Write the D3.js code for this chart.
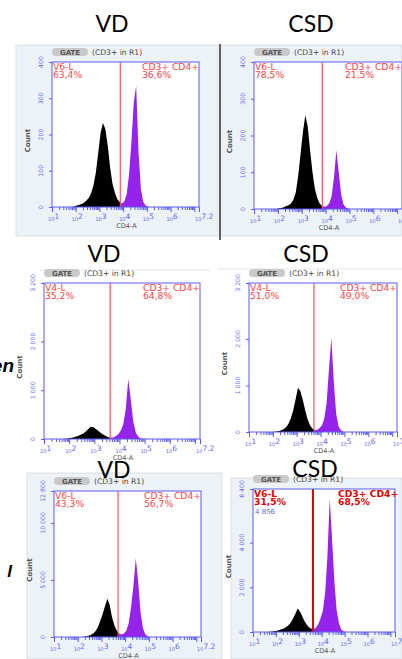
<!DOCTYPE html>
<html>
<head>
<meta charset="utf-8">
<script src="https://cdn.jsdelivr.net/npm/d3@7"></script>
<style>
  body { margin: 0; background: #fff; }
  svg { display: block; }
</style>
</head>
<body>
<svg id="chart" width="402" height="659"></svg>
<script>
// Daten der Histogramme (log10 CD4-A, Klassenmitte ab 1.55, Schrittweite 0.1)
const logStart = 1.55;
const logStep = 0.1;

const titles = ['VD', 'CSD', 'VD', 'CSD', 'VD', 'CSD'];
const leftGateNames = ['V6-L', 'V6-L', 'V4-L', 'V4-L', 'V6-L', 'V6-L'];
const leftPercents = ['63,4%', '78,5%', '35,2%', '51,0%', '43,3%', '31,5%'];
const rightGateName = 'CD3+ CD4+';
const rightPercents = ['36,6%', '21,5%', '64,8%', '49,0%', '56,7%', '68,5%'];
const gateLogs = [3.88, 3.86, 3.63, 3.72, 3.70, 3.62];
const countMax = [400, 400, 3200, 3200, 12800, 6400];
const countTicks = [
  [0, 100, 200, 300, 400],
  [0, 100, 200, 300, 400],
  [0, 1000, 2000, 3200],
  [0, 1000, 2000, 3200],
  [0, 5000, 10000, 12800],
  [0, 2000, 4000, 6400]
];
const decadeTicks = [1, 2, 3, 4, 5, 6, 7];
const decadeLabels = ['1', '2', '3', '4', '5', '6', '7.2'];

const countsVdTop = [0, 0, 0, 0, 2, 4, 6, 8, 12, 18, 25, 38, 60, 95, 150, 205, 232, 215, 170, 110, 65, 40, 22, 14,
  10, 15, 35, 90, 180, 290, 335, 150, 50, 14, 4, 1, 0, 0, 0, 0, 0];
const countsCsdTop = [0, 0, 0, 0, 0, 2, 3, 5, 8, 10, 15, 25, 45, 90, 150, 210, 255, 225, 160, 100, 55, 30, 15, 8,
  6, 8, 15, 35, 85, 160, 100, 40, 12, 4, 1, 0, 0, 0, 0, 0, 0];
const countsVdMid = [0, 0, 0, 5, 10, 20, 30, 45, 60, 85, 110, 150, 200, 250, 245, 210, 170, 130, 90, 60, 35, 25, 30, 55,
  100, 170, 300, 620, 1230, 800, 350, 130, 45, 12, 4, 0, 0, 0, 0, 0, 0];
const countsCsdMid = [0, 0, 0, 0, 0, 5, 10, 20, 35, 60, 100, 170, 290, 460, 700, 950, 880, 700, 480, 280, 150, 75, 45, 45,
  80, 140, 280, 620, 1350, 2020, 1100, 400, 120, 35, 8, 2, 0, 0, 0, 0, 0];
const countsVdLow = [0, 0, 0, 0, 0, 0, 0, 20, 50, 100, 180, 300, 500, 850, 1400, 2000, 2700, 3350, 2800, 1700, 1000, 550, 300, 220,
  300, 550, 1200, 2600, 4500, 6900, 4800, 2200, 800, 250, 60, 10, 0, 0, 0, 0, 0];
const countsCsdLow = [0, 5, 10, 25, 40, 60, 90, 120, 160, 220, 300, 420, 600, 820, 1050, 920, 700, 480, 320, 200, 140, 130, 200, 350,
  620, 950, 1750, 3400, 5950, 4200, 2300, 1000, 400, 110, 30, 5, 0, 0, 0, 0, 0];
const allCounts = [countsVdTop, countsCsdTop, countsVdMid, countsCsdMid, countsVdLow, countsCsdLow];

// Lage der Plotflächen im Bild
const layout = [
  { left: 52, right: 199, top: 62, bottom: 207, tx: 112, ty: 32, bg: [16, 45, 202, 191] },
  { left: 254, right: 402, top: 62, bottom: 209, tx: 311, ty: 32, bg: [220, 45, 182, 191] },
  { left: 44, right: 200, top: 283, bottom: 439, tx: 104, ty: 262, bg: null },
  { left: 249, right: 397, top: 283, bottom: 432, tx: 306, ty: 262, bg: null },
  { left: 54, right: 201, top: 491, bottom: 637, tx: 114, ty: 478, bg: [27, 473, 195, 186] },
  { left: 253, right: 395, top: 489, bottom: 632, tx: 315, ty: 477, bg: [231, 478, 171, 181] }
];

const blue = '#5b5bf5';
const red = '#ff4646';
const purple = '#9623ea';
const svg = d3.select('#chart');
const fmtCount = d => d3.format(',')(d).replace(/,/g, ' ');

// Hintergrundboxen
layout.forEach(p => {
  if (p.bg) {
    svg.append('rect')
      .attr('x', p.bg[0]).attr('y', p.bg[1])
      .attr('width', p.bg[2]).attr('height', p.bg[3])
      .attr('fill', '#edf2f6')
      .attr('stroke', '#d4dade').attr('stroke-width', 0.8);
  }
});
svg.append('line').attr('x1', 220).attr('x2', 220).attr('y1', 44).attr('y2', 240)
  .attr('stroke', '#333').attr('stroke-width', 1.5);
svg.append('line').attr('x1', 40).attr('x2', 210).attr('y1', 270).attr('y2', 270)
  .attr('stroke', '#e6e6e6');
svg.append('line').attr('x1', 218).attr('x2', 402).attr('y1', 269).attr('y2', 269)
  .attr('stroke', '#e6e6e6');

// Funktion zum Zeichnen eines Panels
function drawPanel(p, i) {
  const g = svg.append('g');
  const x = d3.scaleLinear().domain([1, 7.2]).range([p.left, p.right]);
  const y = d3.scaleLinear().domain([0, countMax[i]]).range([p.bottom, p.top]);
  const gx = x(gateLogs[i]);
  const bold = i === 5;

  g.append('rect').attr('x', p.left).attr('y', p.top)
    .attr('width', p.right - p.left).attr('height', p.bottom - p.top).attr('fill', '#fff');

  const bins = allCounts[i].map((c, k) => ({ lg: logStart + k * logStep, c: c }));
  const area = d3.area()
    .x(d => x(d.lg)).y0(y(0)).y1(d => y(d.c))
    .curve(d3.curveLinear);

  const clipL = 'clipL' + i, clipR = 'clipR' + i;
  const defs = g.append('defs');
  defs.append('clipPath').attr('id', clipL).append('rect')
    .attr('x', p.left).attr('y', p.top).attr('width', gx - p.left).attr('height', p.bottom - p.top);
  defs.append('clipPath').attr('id', clipR).append('rect')
    .attr('x', gx).attr('y', p.top).attr('width', p.right - gx).attr('height', p.bottom - p.top);

  g.append('path').datum(bins).attr('d', area).attr('fill', '#000').attr('clip-path', 'url(#' + clipL + ')');
  g.append('path').datum(bins).attr('d', area).attr('fill', purple).attr('clip-path', 'url(#' + clipR + ')');

  // Gate-Linie
  g.append('line').attr('x1', gx).attr('x2', gx).attr('y1', p.top).attr('y2', p.bottom)
    .attr('stroke', bold ? '#e00000' : red).attr('stroke-width', bold ? 2 : 1.1);

  // Rahmen
  g.append('rect').attr('x', p.left).attr('y', p.top)
    .attr('width', p.right - p.left).attr('height', p.bottom - p.top)
    .attr('fill', 'none').attr('stroke', blue).attr('stroke-width', 1);

  // x-Achse mit Haupt- und Nebenstrichen
  const minor = [];
  for (let d = 1; d < 7; d++) {
    for (let m = 2; m < 10; m++) minor.push(d + Math.log10(m));
  }
  const ax = g.append('g').attr('transform', 'translate(0,' + p.bottom + ')');
  ax.call(d3.axisBottom(x).tickValues(decadeTicks.concat([7.2])).tickSize(5).tickFormat(''));
  ax.append('g').call(d3.axisBottom(x).tickValues(minor).tickSize(3).tickFormat(''));
  ax.selectAll('path').remove();
  ax.selectAll('line').attr('stroke', blue);

  decadeLabels.forEach((lab, k) => {
    const v = k === 6 ? 7.2 : decadeTicks[k];
    const t = g.append('text')
      .attr('x', x(v) - 4).attr('y', p.bottom + 14)
      .attr('fill', '#6666f2').attr('font-family', 'DejaVu Sans');
    t.append('tspan').attr('font-size', 5).text('10');
    t.append('tspan').attr('font-size', 7.5).attr('dy', -2.5).text(lab);
  });

  g.append('text').attr('x', (p.left + p.right) / 2 + 1).attr('y', p.bottom + 21)
    .attr('text-anchor', 'middle').attr('font-family', 'DejaVu Sans').attr('font-size', 6.5)
    .attr('fill', '#555').text('CD4-A');

  // y-Achse
  const ay = g.append('g').attr('transform', 'translate(' + p.left + ',0)');
  ay.call(d3.axisLeft(y).tickValues(countTicks[i]).tickSize(3).tickFormat(''));
  ay.selectAll('path').remove();
  ay.selectAll('line').attr('stroke', blue);
  countTicks[i].forEach(v => {
    g.append('text')
      .attr('transform', 'translate(' + (p.left - 9) + ',' + y(v) + ') rotate(-90)')
      .attr('text-anchor', 'middle').attr('font-family', 'DejaVu Sans').attr('font-size', 6.2)
      .attr('fill', '#6666f2').text(fmtCount(v));
  });
  g.append('text')
    .attr('transform', 'translate(' + (p.left - 22) + ',' + ((p.top + p.bottom) / 2 + 6) + ') rotate(-90)')
    .attr('text-anchor', 'middle').attr('font-family', 'DejaVu Sans').attr('font-size', 7)
    .attr('font-weight', 'bold').attr('fill', '#555').text('Count');

  // GATE-Kopf
  g.append('rect').attr('x', p.left).attr('y', p.top - 14).attr('width', 36).attr('height', 8)
    .attr('rx', 4).attr('fill', '#c9c9c9');
  g.append('text').attr('x', p.left + 18).attr('y', p.top - 7.3).attr('text-anchor', 'middle')
    .attr('font-family', 'DejaVu Sans').attr('font-size', 7).attr('font-weight', 'bold')
    .attr('fill', '#555').text('GATE');
  g.append('text').attr('x', p.left + 40).attr('y', p.top - 7.3)
    .attr('font-family', 'DejaVu Sans').attr('font-size', 7.6)
    .attr('fill', '#444').text('(CD3+ in R1)');

  // Gate-Beschriftungen
  const lab = (tx, ty, s, anchor) => g.append('text').attr('x', tx).attr('y', ty)
    .attr('text-anchor', anchor).attr('font-family', 'DejaVu Sans').attr('font-size', 9.2)
    .attr('font-weight', bold ? 'bold' : 'normal')
    .attr('fill', bold ? '#e00000' : red).text(s);
  lab(p.left + 1, p.top + 8, leftGateNames[i], 'start');
  lab(p.left + 1, p.top + 15.5, leftPercents[i], 'start');
  lab(p.right - 57, p.top + 8, rightGateName, 'start');
  lab(p.right - 57, p.top + 15.5, rightPercents[i], 'start');
  if (i === 5) {
    g.append('text').attr('x', p.left + 2).attr('y', p.top + 25)
      .attr('font-family', 'DejaVu Sans').attr('font-size', 7).attr('fill', '#6666f2').text('4 856');
  }

  // Titel
  svg.append('text').attr('x', p.tx).attr('y', p.ty).attr('text-anchor', 'middle')
    .attr('font-family', 'Lato').attr('font-size', 23).attr('fill', '#000').text(titles[i]);
}

layout.forEach((p, i) => drawPanel(p, i));

// abgeschnittene Beschriftungen am linken Rand
svg.append('text').attr('x', 14).attr('y', 372).attr('text-anchor', 'end')
  .attr('font-family', 'Liberation Sans').attr('font-size', 19).attr('font-weight', 'bold')
  .attr('font-style', 'italic').text('en');
svg.append('text').attr('x', 12).attr('y', 577).attr('text-anchor', 'end')
  .attr('font-family', 'Liberation Sans').attr('font-size', 17).attr('font-weight', 'bold')
  .attr('font-style', 'italic').text('l');
</script>
</body>
</html>
